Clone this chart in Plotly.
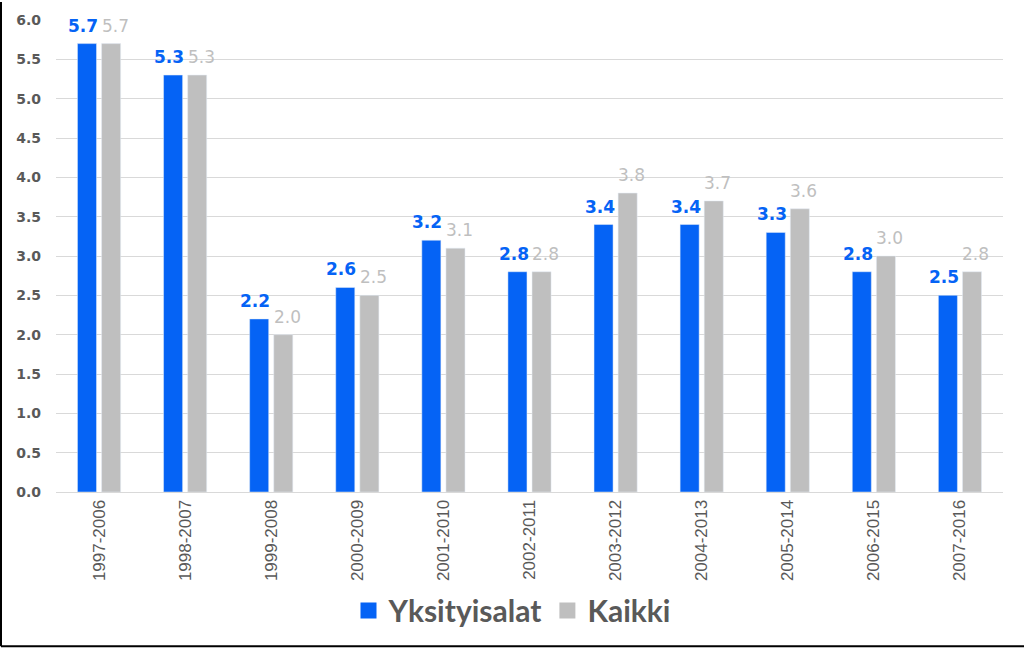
import plotly.graph_objects as go

categories = ["1997-2006", "1998-2007", "1999-2008", "2000-2009", "2001-2010", "2002-2011",
              "2003-2012", "2004-2013", "2005-2014", "2006-2015", "2007-2016"]
yksityisalat = [5.7, 5.3, 2.2, 2.6, 3.2, 2.8, 3.4, 3.4, 3.3, 2.8, 2.5]
kaikki = [5.7, 5.3, 2.0, 2.5, 3.1, 2.8, 3.8, 3.7, 3.6, 3.0, 2.8]
y_ticks = [i * 0.5 for i in range(13)]
y_tick_labels = [f"{v:.1f}" for v in y_ticks]

BLUE = "#0563F5"
GRAY = "#BFBFBF"
TXT = "#595959"

W, H = 1024, 649
L, R, T, B = 56, 21, 18, 157

fig = go.Figure()
fig.add_trace(go.Bar(name="Yksityisalat", x=categories, y=yksityisalat, marker_color=BLUE,
                     showlegend=False))
fig.add_trace(go.Bar(name="Kaikki", x=categories, y=kaikki, marker_color=GRAY,
                     showlegend=False))
# legend entries with larger square swatches
for name, col in [("Yksityisalat", BLUE), ("Kaikki", GRAY)]:
    fig.add_trace(go.Scatter(
        name=name, x=[None], y=[None], mode="markers",
        marker=dict(symbol="square", size=18, color=col), showlegend=True,
    ))

# value labels above bars
annotations = []
for cat, v in zip(categories, yksityisalat):
    annotations.append(dict(x=cat, y=v, text=f"{v:.1f}", showarrow=False, xshift=-16,
                            yanchor="bottom", yshift=6,
                            font=dict(family="DejaVu Sans", size=17, color=BLUE, weight="bold")))
for cat, v in zip(categories, kaikki):
    annotations.append(dict(x=cat, y=v, text=f"{v:.1f}", showarrow=False, xshift=16,
                            yanchor="bottom", yshift=6,
                            font=dict(family="DejaVu Sans", size=17, color=GRAY)))

pw = W - L - R
ph = H - T - B
x_left = (1 - L) / pw
x_right = (W - L) / pw
y_bottom = (T + ph - (H - 2)) / ph
y_top = (T + ph) / ph

fig.update_layout(
    width=W, height=H,
    margin=dict(l=L, r=R, t=T, b=B),
    paper_bgcolor="white", plot_bgcolor="white",
    barmode="group", bargap=0.44, bargroupgap=0.21,
    showlegend=True,
    annotations=annotations,
    legend=dict(orientation="h", x=(512 - L) / pw, xanchor="center", y=(T + ph - 611) / ph,
                yanchor="middle",
                font=dict(family="Lato", size=30, color=TXT, weight="bold"),
                itemsizing="trace", traceorder="normal", itemwidth=30, tracegroupgap=0),
    xaxis=dict(tickangle=-90, tickfont=dict(family="Liberation Sans", size=17, color=TXT),
               showline=True, linecolor="#D9D9D9", linewidth=1, ticks="", showgrid=False),
    yaxis=dict(range=[0, 6.0], tickvals=y_ticks, ticktext=y_tick_labels,
               tickfont=dict(family="DejaVu Sans", size=14, color=TXT, weight="bold"),
               ticklabelstandoff=14,
               showgrid=True, gridcolor="#D9D9D9", gridwidth=1, zeroline=False, ticks=""),
    shapes=[
        dict(type="line", xref="paper", yref="paper", x0=x_left, x1=x_left, y0=y_bottom, y1=y_top,
             line=dict(color="black", width=2)),
        dict(type="line", xref="paper", yref="paper", x0=x_left, x1=x_right, y0=y_bottom, y1=y_bottom,
             line=dict(color="black", width=2)),
    ],
)

fig.write_html("out.html")
